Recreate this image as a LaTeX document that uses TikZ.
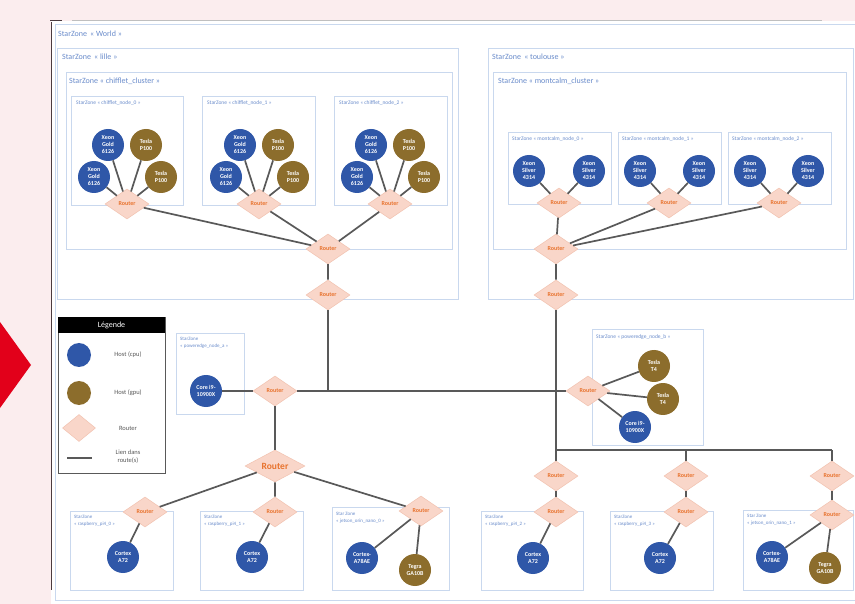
\documentclass[tikz,border=0pt]{standalone}
\usepackage{fontspec}
\setmainfont{Carlito}
\usetikzlibrary{shapes.geometric}

\definecolor{fondrose}{HTML}{FBEDEE}
\definecolor{flecherouge}{HTML}{E2001A}
\definecolor{bleucpu}{HTML}{2F57A8}
\definecolor{brungpu}{HTML}{8C6D2C}
\definecolor{fondrouteur}{HTML}{F9D6C9}
\definecolor{bordrouteur}{HTML}{F2C2B0}
\definecolor{texterouteur}{HTML}{E8732E}
\definecolor{traitzone}{HTML}{C9D8EE}
\definecolor{textezone}{HTML}{6A8CCB}
\definecolor{gristrait}{HTML}{595959}
\definecolor{bordure}{HTML}{4B3B3F}

\begin{document}
\begin{tikzpicture}[x=1pt, y=-1pt,
    zone/.style={draw=traitzone, line width=0.7pt},
    titre/.style={anchor=west, inner sep=0pt, text=textezone, font=\fontsize{8}{9}\selectfont},
    petittitre/.style={anchor=west, inner sep=0pt, text=textezone, font=\fontsize{5.5}{6.5}\selectfont},
    soustitre/.style={anchor=north west, inner sep=0pt, align=left, text=textezone, font=\fontsize{5}{7}\selectfont},
    hote/.style={circle, minimum size=32pt, inner sep=0pt, align=center, text=white, font=\fontsize{6}{7}\selectfont\bfseries},
    cpu/.style={hote, fill=bleucpu},
    gpu/.style={hote, fill=brungpu},
    routeur/.style={diamond, aspect=2, fill=fondrouteur, draw=bordrouteur, line width=0.5pt, minimum width=44pt, minimum height=30pt, inner sep=0pt, text=texterouteur, font=\fontsize{6}{6}\selectfont\bfseries},
    lien/.style={draw=gristrait, line width=1.7pt},
    legtexte/.style={align=center, text=gristrait, font=\fontsize{6.5}{8}\selectfont}
]
    \useasboundingbox (0,0) rectangle (855,604);

    % Fond
    \fill[fondrose] (0,0) rectangle (855,604);
    \fill[flecherouge] (0,322) -- (31,365) -- (0,408) -- cycle;
    \fill[white] (51,21) rectangle (855,604);
    \draw[line width=1pt, black!25] (72,21) -- (822,21);
    \draw[line width=1pt, bordure] (50,21) -- (62,21);
    \draw[line width=1pt, bordure] (51,22) -- (51,590);

    % Zones
    \draw[zone] (856,24) -- (55,24) -- (55,600) -- (856,600);
    \node[titre] (tworld) at (58,34) {StarZone \,« World »};
    \draw[zone] (57,48) rectangle (458,299);
    \node[titre] (tlille) at (62,57) {StarZone \,« lille »};
    \draw[zone] (488,48) rectangle (853,299);
    \node[titre] (ttoulouse) at (492,57) {StarZone \,« toulouse »};
    \draw[zone] (66,72) rectangle (452,249);
    \node[titre] (tchifflet) at (69,81) {StarZone « chifflet\_cluster »};
    \draw[zone] (493,72) rectangle (846,249);
    \node[titre] (tmontcalm) at (498,81) {StarZone « montcalm\_cluster »};

    \draw[zone] (71,96) rectangle (183,205);
    \node[petittitre] (tcn0) at (76,103) {StarZone « chifflet\_node\_0 »};
    \draw[zone] (202,96) rectangle (315,205);
    \node[petittitre] (tcn1) at (207,103) {StarZone « chifflet\_node\_1 »};
    \draw[zone] (334,96) rectangle (447,205);
    \node[petittitre] (tcn2) at (339,103) {StarZone « chifflet\_node\_2 »};

    \draw[zone] (508,132) rectangle (611,204);
    \node[petittitre] (tmn0) at (512,139) {StarZone « montcalm\_node\_0 »};
    \draw[zone] (618,132) rectangle (721,204);
    \node[petittitre] (tmn1) at (622,139) {StarZone « montcalm\_node\_1 »};
    \draw[zone] (728,132) rectangle (831,204);
    \node[petittitre] (tmn2) at (732,139) {StarZone « montcalm\_node\_2 »};

    \draw[zone] (176,333) rectangle (244,414);
    \node[soustitre] (tpea) at (180,337) {StarZone\\« poweredge\_node\_a »};
    \draw[zone] (592,329) rectangle (703,445);
    \node[petittitre] (tpeb) at (596,337) {StarZone « poweredge\_node\_b »};

    \draw[zone] (70,511) rectangle (173,590);
    \node[soustitre] (trp0) at (74,515) {StarZone\\« raspberry\_pi4\_0 »};
    \draw[zone] (200,511) rectangle (303,590);
    \node[soustitre] (trp1) at (204,515) {StarZone\\« raspberry\_pi4\_1 »};
    \draw[zone] (332,507) rectangle (449,590);
    \node[soustitre] (tjt0) at (336,512) {Star Zone\\« jetson\_orin\_nano\_0 »};
    \draw[zone] (481,511) rectangle (583,590);
    \node[soustitre] (trp2) at (485,515) {StarZone\\« raspberry\_pi4\_2 »};
    \draw[zone] (610,511) rectangle (713,590);
    \node[soustitre] (trp3) at (614,515) {StarZone\\« raspberry\_pi4\_3 »};
    \draw[zone] (743,510) rectangle (853,590);
    \node[soustitre] (tjt1) at (747,514) {Star Zone\\« jetson\_orin\_nano\_1 »};

    % Hotes chifflet
    \node[cpu] (cx0a) at (108,145) {Xeon\\Gold\\6126};
    \node[cpu] (cx0b) at (94,177) {Xeon\\Gold\\6126};
    \node[gpu] (ct0a) at (146,145) {Tesla\\P100};
    \node[gpu] (ct0b) at (161,177) {Tesla\\P100};
    \node[cpu] (cx1a) at (240,145) {Xeon\\Gold\\6126};
    \node[cpu] (cx1b) at (226,177) {Xeon\\Gold\\6126};
    \node[gpu] (ct1a) at (278,145) {Tesla\\P100};
    \node[gpu] (ct1b) at (293,177) {Tesla\\P100};
    \node[cpu] (cx2a) at (371,145) {Xeon\\Gold\\6126};
    \node[cpu] (cx2b) at (357,177) {Xeon\\Gold\\6126};
    \node[gpu] (ct2a) at (409,145) {Tesla\\P100};
    \node[gpu] (ct2b) at (424,177) {Tesla\\P100};

    % Hotes montcalm
    \node[cpu] (mx0a) at (529,171) {Xeon\\Silver\\4314};
    \node[cpu] (mx0b) at (589,171) {Xeon\\Silver\\4314};
    \node[cpu] (mx1a) at (640,171) {Xeon\\Silver\\4314};
    \node[cpu] (mx1b) at (699,171) {Xeon\\Silver\\4314};
    \node[cpu] (mx2a) at (750,171) {Xeon\\Silver\\4314};
    \node[cpu] (mx2b) at (808,171) {Xeon\\Silver\\4314};

    % Hotes du bas
    \node[cpu] (pea) at (206,391) {Core i9-\\10900X};
    \node[gpu] (peb1) at (654,366) {Tesla\\T4};
    \node[gpu] (peb2) at (663,399) {Tesla\\T4};
    \node[cpu] (peb3) at (635,427) {Core i9-\\10900X};
    \node[cpu] (rp0) at (123,557) {Cortex\\A72};
    \node[cpu] (rp1) at (252,557) {Cortex\\A72};
    \node[cpu] (jt0a) at (362,558) {Cortex-\\A78AE};
    \node[gpu] (jt0b) at (415,570) {Tegra\\GA10B};
    \node[cpu] (rp2) at (533,558) {Cortex\\A72};
    \node[cpu] (rp3) at (660,558) {Cortex\\A72};
    \node[cpu] (jt1a) at (772,557) {Cortex-\\A78AE};
    \node[gpu] (jt1b) at (825,568) {Tegra\\GA10B};

    % Routeurs
    \node[routeur] (rc0) at (127,204) {Router};
    \node[routeur] (rc1) at (259,204) {Router};
    \node[routeur] (rc2) at (390,204) {Router};
    \node[routeur] (rcc) at (328,249) {Router};
    \node[routeur] (rlille) at (328,295) {Router};
    \node[routeur] (rm0) at (559,203) {Router};
    \node[routeur] (rm1) at (669,203) {Router};
    \node[routeur] (rm2) at (779,203) {Router};
    \node[routeur] (rmc) at (556,249) {Router};
    \node[routeur] (rtoul) at (556,295) {Router};
    \node[routeur] (rpea) at (275,391) {Router};
    \node[routeur] (rpeb) at (588,391) {Router};
    \node[routeur, minimum width=60pt, minimum height=32pt, font=\fontsize{9.5}{10}\selectfont\bfseries] (rgrand) at (275,466) {Router};
    \node[routeur] (rrp0) at (145,512) {Router};
    \node[routeur] (rrp1) at (275,512) {Router};
    \node[routeur] (rjt0) at (421,511) {Router};
    \node[routeur] (rh2) at (556,476) {Router};
    \node[routeur] (rh3) at (686,476) {Router};
    \node[routeur] (rh4) at (832,476) {Router};
    \node[routeur] (rrp2) at (556,512) {Router};
    \node[routeur] (rrp3) at (686,512) {Router};
    \node[routeur] (rjt1) at (832,515) {Router};

    \coordinate (j0) at (556,450);
    \coordinate (j1) at (686,450);
    \coordinate (j2) at (832,450);

    % Liens
    \path[lien] (cx0a) -- (rc0) (cx0b) -- (rc0) (ct0a) -- (rc0) (ct0b) -- (rc0);
    \path[lien] (cx1a) -- (rc1) (cx1b) -- (rc1) (ct1a) -- (rc1) (ct1b) -- (rc1);
    \path[lien] (cx2a) -- (rc2) (cx2b) -- (rc2) (ct2a) -- (rc2) (ct2b) -- (rc2);
    \path[lien] (rc0) -- (rcc) (rc1) -- (rcc) (rc2) -- (rcc) (rcc) -- (rlille);
    \path[lien] (mx0a) -- (rm0) (mx0b) -- (rm0) (mx1a) -- (rm1) (mx1b) -- (rm1) (mx2a) -- (rm2) (mx2b) -- (rm2);
    \path[lien] (rm0) -- (rmc) (rm1) -- (rmc) (rm2) -- (rmc) (rmc) -- (rtoul);

    \path[lien] (pea) -- (rpea) (rpea) -- (rpeb);
    \path[lien] (rlille) -- (rlille |- rpea);
    \path[lien] (rtoul) -- (j0) -- (j2);
    \path[lien] (j0) -- (rh2) (j1) -- (rh3) (j2) -- (rh4);
    \path[lien] (rh2) -- (rrp2) (rh3) -- (rrp3) (rh4) -- (rjt1);
    \path[lien] (rrp2) -- (rp2) (rrp3) -- (rp3) (rjt1) -- (jt1a) (rjt1) -- (jt1b);
    \path[lien] (rpeb) -- (peb1) (rpeb) -- (peb2) (rpeb) -- (peb3);
    \path[lien] (rpea) -- (rgrand);
    \path[lien] (rgrand) -- (rrp0) (rgrand) -- (rrp1) (rgrand) -- (rjt0);
    \path[lien] (rrp0) -- (rp0) (rrp1) -- (rp1) (rjt0) -- (jt0a) (rjt0) -- (jt0b);

    % Legende
    \draw[line width=0.8pt, gristrait] (58,317) rectangle (165,473);
    \fill[black] (58,317) rectangle (165,333);
    \node[text=white, font=\fontsize{8}{9}\selectfont] (leg) at (111.5,325) {Légende};
    \node[circle, fill=bleucpu, minimum size=24pt, inner sep=0pt] (legcpu) at (79,355) {};
    \node[legtexte] (legcputxt) at (128,355) {Host (cpu)};
    \node[circle, fill=brungpu, minimum size=24pt, inner sep=0pt] (leggpu) at (79,393) {};
    \node[legtexte] (leggputxt) at (128,393) {Host (gpu)};
    \node[routeur, minimum width=33pt, minimum height=27pt] (legrouteur) at (79,428) {};
    \node[legtexte] (legrouteurtxt) at (128,428) {Router};
    \coordinate (liena) at (67,458);
    \coordinate (lienb) at (92,458);
    \path[lien] (liena) -- (lienb);
    \node[legtexte] (legtrait) at (128,457) {Lien dans\\route(s)};
\end{tikzpicture}
\end{document}
